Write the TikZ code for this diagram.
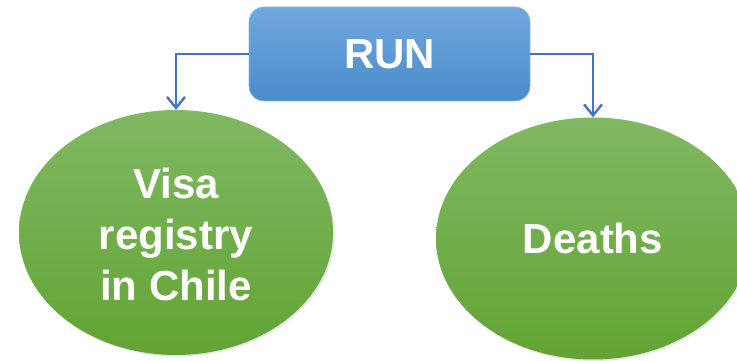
\documentclass[tikz,border=0pt]{standalone}
\usepackage{fontspec}
\setmainfont{Liberation Sans}
\usetikzlibrary{arrows.meta,shapes.geometric,shadows}
\definecolor{bluetop}{HTML}{70A8DD}
\definecolor{bluebot}{HTML}{4A8BCB}
\definecolor{blueline}{HTML}{8DB8E4}
\definecolor{greentop}{HTML}{80B863}
\definecolor{greenbot}{HTML}{62A433}
\definecolor{arrowblue}{HTML}{4472C4}
\tikzset{
  runbox/.style={rectangle, rounded corners=15pt, minimum width=281pt, minimum height=94pt,
    top color=bluetop, bottom color=bluebot, draw=blueline, line width=0.8pt,
    text=white, font=\bfseries\fontsize{42}{51}\selectfont, inner sep=0pt},
  oval/.style={ellipse, minimum width=314pt, inner sep=0pt,
    top color=greentop, bottom color=greenbot,
    drop shadow={opacity=0.2, shadow xshift=1.5pt, shadow yshift=-1.5pt},
    text=white, font=\bfseries\fontsize{42}{51}\selectfont, align=center},
  conn/.style={draw=arrowblue, line width=2.4pt, -{Straight Barb[length=11pt,width=18pt,line width=2.4pt]}}
}
\begin{document}
\begin{tikzpicture}[x=1pt,y=1pt]
\useasboundingbox (0,0) rectangle (737,361);
\clip (0,0) rectangle (737,361);
\node[runbox] (run) at (389.5,307) {\raisebox{-2.5pt}{RUN}};
\node[oval, minimum height=245pt] (visa) at (176,128.5) {};
\node[white, font=\bfseries\fontsize{42}{51}\selectfont, align=center] (visatext) at (176,126.5) {Visa\\registry\\in Chile};
\node[oval, minimum height=242pt] (deaths) at (593,122.5) {Deaths};
\draw[conn] (run.west) -| (visa.north);
\draw[conn] (run.east) -| (deaths.north);
\end{tikzpicture}
\end{document}
